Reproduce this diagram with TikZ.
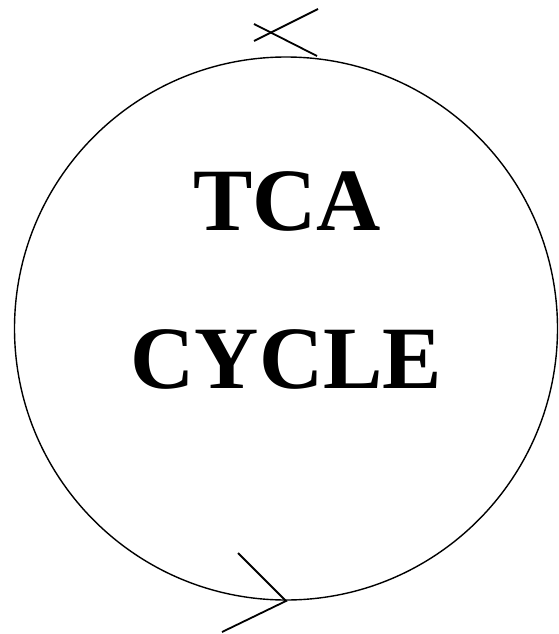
\documentclass[tikz,border=0pt]{standalone}
\usepackage{fontspec}
\setmainfont{Liberation Serif}
\begin{document}
\begin{tikzpicture}[x=1pt,y=-1pt,
  ring/.style={draw=black,line width=1.4pt},
  tick/.style={draw=black,line width=1.8pt},
  title/.style={font=\fontsize{89}{89}\selectfont\bfseries,inner sep=0pt,anchor=base}]
\useasboundingbox (0,0) rectangle (558,634);
\node[ring,circle,minimum size=543pt,inner sep=0pt] (cyc) at (286,328.5) {};
\node[title] (tca) at (287,230) {TCA};
\node[title] (cycle) at (286.5,388) {CYCLE};
% top arrow marks
\coordinate (t1a) at (254,41);
\coordinate (t1b) at (318,9);
\coordinate (t2a) at (254,24);
\coordinate (t2b) at (317,56);
\draw[tick] (t1a) -- (t1b);
\draw[tick] (t2a) -- (t2b);
% bottom arrow head
\coordinate (b1) at (238,553);
\coordinate (bt) at (286,601);
\coordinate (b2) at (222,632);
\draw[tick,line join=miter] (b1) -- (bt) -- (b2);
\end{tikzpicture}
\end{document}
